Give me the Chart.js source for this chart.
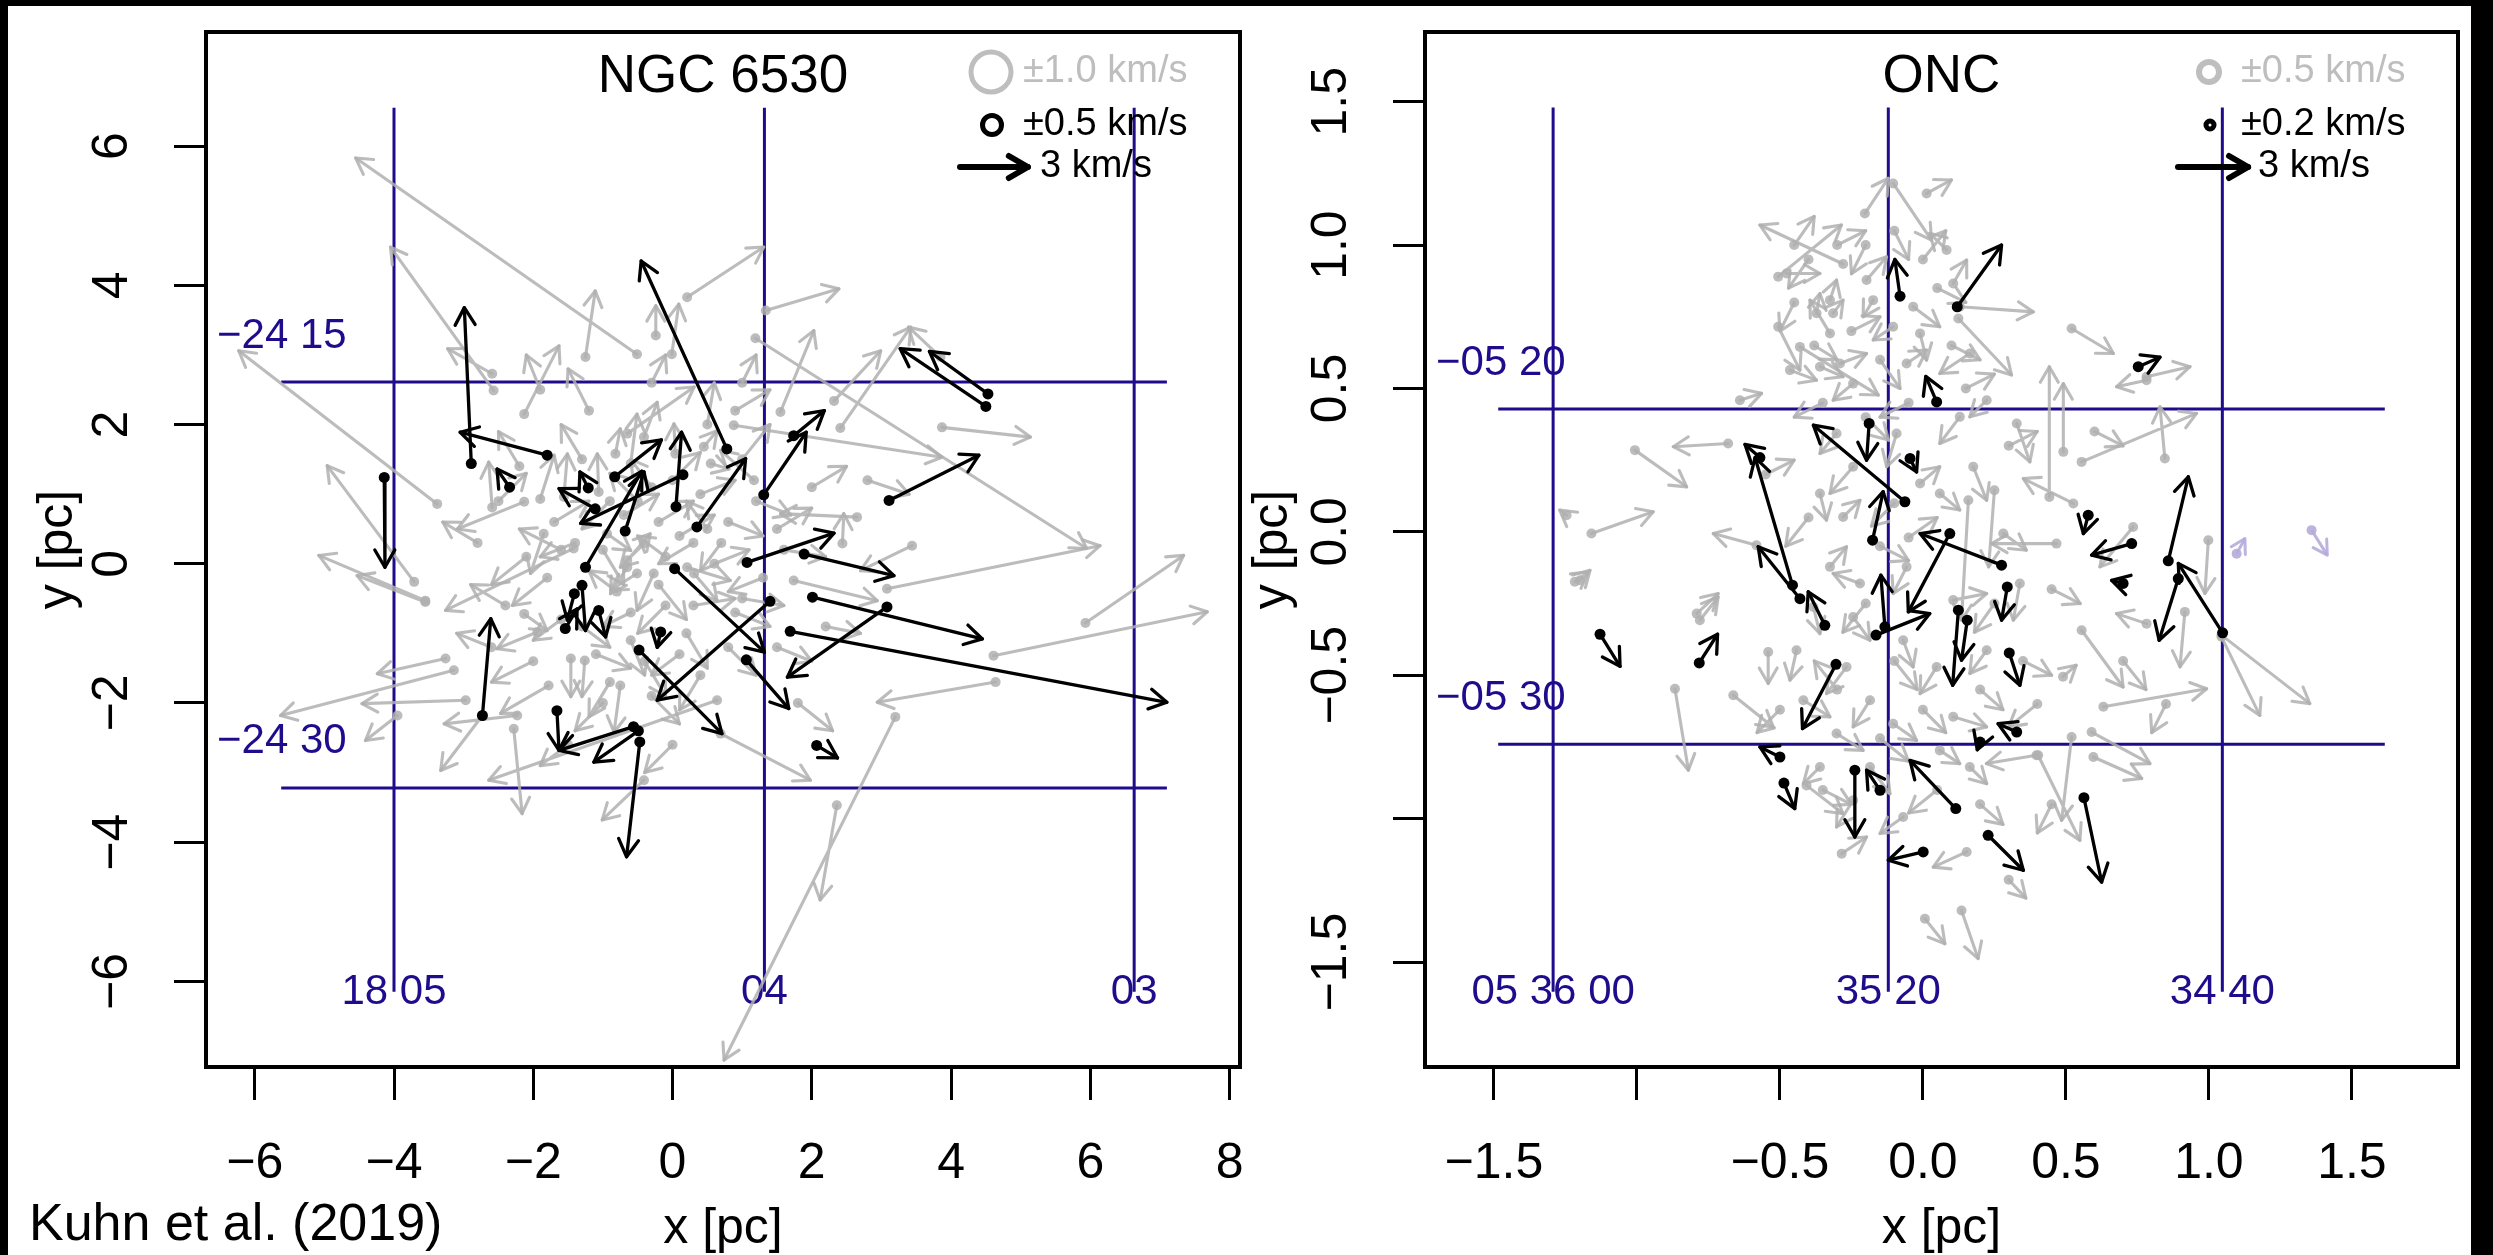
<!DOCTYPE html>
<html>
<head>
<meta charset="utf-8">
<title>NGC 6530 and ONC stellar motions</title>
<script src="https://cdn.jsdelivr.net/npm/chart.js@4.4.1/dist/chart.umd.min.js"></script>
<style>
  html, body { margin: 0; padding: 0; background: #000; width: 2493px; height: 1255px; overflow: hidden; }
  #sheet { position: absolute; left: 8px; top: 6px; width: 2463px; height: 1249px; background: #fff; }
  canvas { position: absolute; top: 0; }
  #ngc { left: 0; }
  #onc { left: 1240px; }
  #credit { position: absolute; left: 21px; top: 1190px; font: 52px/52px "Liberation Sans", Arial, sans-serif; color: #000; white-space: nowrap; }
</style>
</head>
<body>
<div id="sheet">
  <canvas id="ngc" width="1240" height="1249"></canvas>
  <canvas id="onc" width="1223" height="1249"></canvas>
  <div id="credit">Kuhn et al. (2019)</div>
</div>
<script>
const FONT = '"Liberation Sans", Arial, Helvetica, sans-serif';
const BLUE = '#1f0c8c';
const GREY = 'rgba(176,176,176,0.85)';
const FAINT = 'rgba(182,172,218,0.9)';
Chart.defaults.font.family = FONT;
Chart.defaults.color = '#000';

// ---------- NGC 6530 (left panel) ----------
const ngcXTicks = [-6, -4, -2, 0, 2, 4, 6, 8];
const ngcXLabels = ['−6', '−4', '−2', '0', '2', '4', '6', '8'];
const ngcYTicks = [-6, -4, -2, 0, 2, 4, 6];
const ngcYLabels = ['−6', '−4', '−2', '0', '2', '4', '6'];
const ngcRaX = [-4.00, 1.32, 6.63];
const ngcRaLabels = ['18 05', '04', '03'];
const ngcDecY = [2.61, -3.22];
const ngcDecLabels = ['−24 15', '−24 30'];
const ngcLegendText = ['±1.0 km/s', '±0.5 km/s', '3 km/s'];
const ngcPcPerKms = 0.325;

// [x start, y start, x tip, y tip] in pc
const ngcBlackArrows = [
  [0.78, 1.65, -0.45, 4.35], [-2.89, 1.44, -2.99, 3.68], [-1.80, 1.56, -3.05, 1.89],
  [-2.34, 1.10, -2.52, 1.36], [-4.14, 1.24, -4.13, -0.05], [-0.83, 1.25, -0.16, 1.78],
  [0.05, 0.82, 0.13, 1.89], [0.15, 1.28, -1.32, 0.58], [-1.25, -0.05, -0.44, 1.33],
  [-0.68, 0.47, -0.41, 1.32], [-1.11, 0.79, -1.63, 1.08], [-1.21, 1.09, -1.33, 1.32],
  [0.35, 0.53, 1.05, 1.51], [0.03, -0.07, 1.32, -1.27], [-0.48, -1.24, 0.71, -2.44],
  [4.53, 2.44, 3.69, 3.05], [4.50, 2.26, 3.27, 3.09], [1.74, 1.84, 2.18, 2.20],
  [1.31, 0.99, 1.92, 1.89], [3.11, 0.91, 4.40, 1.56], [1.07, 0.02, 2.32, 0.44],
  [1.89, 0.14, 3.18, -0.17], [2.01, -0.48, 4.45, -1.08], [3.08, -0.62, 1.65, -1.63],
  [1.40, -0.54, -0.22, -1.96], [1.69, -0.97, 7.10, -1.99], [1.06, -1.38, 1.67, -2.08],
  [2.07, -2.61, 2.37, -2.79], [-2.73, -2.18, -2.61, -0.79], [-1.66, -2.11, -1.63, -2.68],
  [-0.56, -2.34, -1.63, -2.68], [-0.49, -2.40, -1.13, -2.85], [-0.47, -2.56, -0.66, -4.21],
  [-1.30, -0.31, -1.25, -0.96], [-1.41, -0.43, -1.51, -0.81], [-1.54, -0.93, -1.37, -0.65],
  [-1.06, -0.67, -0.96, -1.05], [-0.17, -0.98, -0.22, -1.20]
];

const ngcGreyArrows = [
  [-0.51, 3.01, -4.55, 5.83], [-2.57, 2.49, -4.05, 4.55], [-2.59, 2.73, -3.23, 3.09],
  [-3.38, 0.86, -6.23, 3.06], [-3.71, -0.26, -4.96, 1.41], [-3.55, -0.53, -5.08, 0.12],
  [-2.13, 0.89, -3.09, 0.50], [-1.25, 2.97, -1.11, 3.92], [-0.24, 3.28, -0.24, 3.71],
  [-0.01, 3.01, 0.09, 3.73], [0.21, 3.83, 1.31, 4.55], [-2.13, 2.15, -1.63, 3.13],
  [1.34, 3.64, 2.39, 3.95], [1.19, 3.24, 5.95, 0.22], [0.88, 1.99, 3.87, 1.53],
  [1.55, 2.18, 2.03, 3.35], [2.32, 2.34, 2.99, 3.06], [2.41, 1.95, 3.42, 3.40],
  [3.85, 2.97, 3.39, 3.40], [3.87, 1.96, 5.14, 1.82], [3.44, 0.26, 2.70, -0.10],
  [3.08, -0.36, 6.14, 0.26], [5.93, -0.85, 7.34, 0.12], [4.61, -1.32, 7.68, -0.69],
  [4.64, -1.70, 2.94, -1.99], [3.20, -2.20, 0.74, -7.13], [2.36, -3.47, 2.12, -4.83],
  [0.69, -2.44, 1.98, -3.11], [-3.55, -0.55, -4.53, -0.17], [-3.26, -1.36, -4.24, -1.58],
  [-3.14, -1.53, -5.63, -2.18], [-2.97, -1.96, -4.46, -2.01], [-3.95, -2.18, -4.41, -2.54],
  [-2.73, -2.18, -3.33, -2.97], [-2.23, -2.18, -3.28, -2.30], [-2.28, -2.37, -2.16, -3.59],
  [-0.75, -1.75, -0.84, -2.42], [-0.41, -3.11, -1.01, -3.68], [-1.78, -1.75, -2.47, -2.15],
  [-1.94, -0.98, -2.52, -1.22], [0.64, -1.96, -2.64, -3.11], [-1.26, -1.39, -1.30, -1.91],
  [-2.59, 0.81, -2.64, 1.46], [-0.65, 1.87, 0.31, 2.54], [-1.42, 0.22, -3.26, -0.67],
  [-1.90, 0.93, -1.70, 1.56], [-1.56, 0.96, -1.51, 1.58], [-1.06, 1.03, -1.08, 1.58],
  [-0.82, 1.58, -0.75, 1.94], [-0.60, 1.44, -0.51, 2.15], [-0.41, 1.82, -0.22, 2.32],
  [0.04, 1.58, 0.02, 2.01], [0.45, 1.68, 0.64, 1.91], [0.55, 1.44, 0.81, 1.36],
  [-1.85, 0.43, -2.04, -0.14], [-0.94, 0.43, -0.60, 0.19], [-0.41, 0.29, -0.75, -0.05],
  [-0.65, 0.05, -0.32, 0.43], [-0.51, -0.14, -0.89, -0.38], [0.21, -0.05, 0.83, -0.24],
  [1.17, 1.20, 0.69, 1.63], [2.65, 0.67, 1.55, 0.72], [2.44, 0.29, 2.46, 0.72],
  [1.74, -0.24, 2.94, -0.53], [-0.65, -0.05, -0.89, -0.43], [-0.27, -0.14, -0.51, -0.67],
  [0.31, -0.14, 0.64, -0.53], [-2.13, -0.72, -1.80, -0.96], [-1.46, -1.36, -1.46, -1.91],
  [-0.20, 0.60, 0.30, 0.90], [0.30, 0.30, -0.20, 0.00], [-0.90, 0.90, -1.30, 0.50],
  [0.80, 0.60, 1.30, 0.40], [0.60, 0.00, 1.10, 0.20], [-0.10, -0.60, -0.50, -1.00],
  [0.90, -0.70, 1.40, -0.90], [-1.30, -0.90, -0.90, -1.20], [0.20, -1.00, 0.50, -1.50],
  [-0.60, -1.10, -0.40, -1.60], [1.30, -0.20, 0.80, -0.40], [-1.60, 0.20, -2.20, 0.50],
  [-2.40, -0.60, -2.90, -0.30], [-2.00, -1.40, -2.60, -1.70], [0.50, 2.00, 0.60, 2.60],
  [-1.20, 2.20, -1.50, 2.80], [1.50, 0.50, 2.00, 0.80], [2.20, -0.90, 2.70, -1.00],
  [-0.30, -1.90, 0.10, -2.30], [-1.00, -2.00, -1.40, -2.40], [0.00, -2.60, -0.40, -3.00],
  [-2.20, 1.40, -2.50, 1.90], [-0.30, 2.60, -0.10, 3.00], [1.00, 2.60, 1.20, 3.00],
  [-1.70, 0.60, -1.20, 0.90], [-1.40, 0.30, -1.90, 0.10], [-1.00, 0.20, -0.70, -0.30],
  [-0.70, 0.70, -0.20, 1.00], [-0.30, 1.10, -0.60, 1.50], [0.10, 0.40, 0.60, 0.70],
  [0.40, 1.00, 0.90, 1.20], [0.70, 0.30, 0.40, -0.10], [1.00, -0.50, 1.60, -0.60],
  [1.20, 0.90, 1.70, 0.70], [0.80, -1.20, 1.20, -1.60], [0.30, -0.60, 0.90, -0.50],
  [-0.20, -0.30, 0.20, -0.80], [-0.80, -0.40, -1.20, -0.10], [-1.10, -1.30, -0.60, -1.50],
  [-1.80, -0.20, -2.30, -0.60], [-2.10, 0.10, -2.60, -0.30], [-1.60, -0.80, -2.00, -1.10],
  [-0.90, -1.70, -1.20, -2.20], [-0.40, -1.40, -0.10, -1.90], [0.40, -1.60, 0.10, -2.10],
  [1.50, -1.20, 2.00, -1.40], [1.60, 0.20, 2.20, 0.10], [2.00, 1.10, 2.50, 1.40],
  [-0.50, 0.90, -0.90, 1.30], [0.00, 1.20, 0.40, 1.60], [-1.30, 1.50, -1.60, 2.00],
  [-0.10, 0.10, -0.50, 0.40], [0.50, 0.50, 0.20, 0.90], [-0.60, -0.70, -1.00, -0.90],
  [0.10, -1.30, -0.30, -1.60], [1.00, 1.50, 1.40, 2.00], [-2.50, 0.90, -2.10, 1.30],
  [-2.80, 0.30, -3.30, 0.60], [2.80, 1.20, 3.40, 1.00], [0.90, 2.20, 1.40, 2.50],
  [-1.90, 2.50, -2.10, 3.00], [-2.60, -1.20, -3.10, -1.00], [1.80, -2.00, 2.30, -2.40],
  [-1.50, -2.60, -1.90, -2.90]
];

// ---------- ONC (right panel) ----------
const oncXTicks = [-1.5, -1.0, -0.5, 0.0, 0.5, 1.0, 1.5];
const oncXLabels = ['−1.5', '', '−0.5', '0.0', '0.5', '1.0', '1.5'];
const oncYTicks = [-1.5, -1.0, -0.5, 0.0, 0.5, 1.0, 1.5];
const oncYLabels = ['−1.5', '', '−0.5', '0.0', '0.5', '1.0', '1.5'];
const oncRaX = [-1.293, -0.121, 1.047];
const oncRaLabels = ['05 36 00', '35 20', '34 40'];
const oncDecY = [0.428, -0.741];
const oncDecLabels = ['−05 20', '−05 30'];
const oncLegendText = ['±0.5 km/s', '±0.2 km/s', '3 km/s'];
const oncPcPerKms = 0.0817;

const oncBlackArrows = [
  [-0.080, 0.822, -0.098, 0.950], [-0.188, 0.378, -0.197, 0.250], [-0.063, 0.105, -0.383, 0.372],
  [-0.456, -0.186, -0.587, 0.259], [-0.430, -0.233, -0.576, -0.052], [-0.570, 0.259, -0.622, 0.305],
  [-0.343, -0.326, -0.401, -0.209], [-0.176, -0.029, -0.139, 0.140], [-0.045, 0.256, -0.022, 0.209],
  [-0.133, -0.331, -0.147, -0.151], [-0.164, -0.360, 0.024, -0.285], [0.094, -0.006, -0.051, -0.279],
  [0.275, -0.116, -0.010, -0.006], [0.048, 0.453, 0.010, 0.542], [0.120, 0.785, 0.275, 1.000],
  [0.753, 0.576, 0.829, 0.609], [0.578, 0.058, 0.561, -0.006], [0.730, -0.041, 0.590, -0.081],
  [0.858, -0.101, 0.928, 0.192], [0.700, -0.180, 0.660, -0.169], [0.893, -0.163, 0.826, -0.378],
  [1.048, -0.352, 0.893, -0.110], [0.295, -0.192, 0.275, -0.308], [0.124, -0.273, 0.104, -0.535],
  [0.155, -0.308, 0.135, -0.448], [0.302, -0.422, 0.339, -0.535], [0.328, -0.698, 0.263, -0.669],
  [0.200, -0.733, 0.190, -0.760], [0.115, -0.965, -0.045, -0.797], [0.228, -1.058, 0.351, -1.180],
  [0.001, -1.116, -0.121, -1.145], [0.563, -0.927, 0.625, -1.221], [-1.129, -0.357, -1.059, -0.469],
  [-0.782, -0.457, -0.718, -0.357], [-0.304, -0.462, -0.421, -0.686], [-0.500, -0.785, -0.570, -0.750],
  [-0.486, -0.876, -0.448, -0.965], [-0.238, -0.831, -0.238, -1.064], [-0.150, -0.901, -0.197, -0.831]
];

const oncGreyArrows = [
  [-0.279, 0.934, -0.570, 1.070], [-0.506, 0.890, -0.285, 1.070], [-0.203, 1.110, -0.121, 1.233],
  [-0.506, 0.715, -0.430, 0.564], [-0.430, 0.645, -0.156, 0.477], [-0.640, 0.459, -0.564, 0.483],
  [-0.681, 0.308, -0.873, 0.297], [-1.007, 0.285, -0.826, 0.157], [-1.159, -0.006, -0.943, 0.070],
  [-1.246, 0.058, -1.270, 0.076], [-1.217, -0.174, -1.170, -0.140], [-0.780, -0.308, -0.716, -0.227],
  [-0.582, -0.047, -0.733, -0.006], [-0.104, 1.215, 0.030, 1.017], [0.013, 1.180, 0.100, 1.227],
  [0.129, 0.785, 0.386, 0.767], [0.124, 0.744, 0.310, 0.547], [0.520, 0.709, 0.666, 0.622],
  [0.782, 0.541, 0.934, 0.576], [0.782, 0.529, 0.677, 0.506], [0.491, 0.279, 0.491, 0.517],
  [0.442, 0.122, 0.442, 0.576], [0.555, 0.244, 0.957, 0.413], [0.846, 0.256, 0.829, 0.436],
  [0.526, 0.099, 0.351, 0.186], [0.328, 0.378, 0.374, 0.244], [0.467, -0.041, 0.240, -0.041],
  [0.159, 0.110, 0.135, -0.308], [0.250, 0.145, 0.230, -0.122], [0.998, -0.029, 0.986, -0.215],
  [0.735, 0.017, 0.619, -0.122], [0.555, -0.343, 0.700, -0.541], [0.490, -0.505, 0.536, -0.465],
  [0.631, -0.610, 0.992, -0.547], [0.916, -0.279, 0.899, -0.471], [0.782, -0.320, 0.677, -0.285],
  [1.044, -0.360, 1.353, -0.599], [1.044, -0.366, 1.178, -0.640], [0.520, -0.715, 0.485, -1.006],
  [0.596, -0.785, 0.765, -0.860], [0.590, -0.698, 0.794, -0.808], [0.403, -0.779, 0.549, -1.076],
  [0.397, -0.779, 0.222, -0.808], [0.153, -1.116, 0.036, -1.169], [0.300, -1.213, 0.360, -1.277],
  [0.007, -1.349, 0.077, -1.436], [0.135, -1.320, 0.193, -1.488], [-1.199, -0.169, -1.164, -0.134],
  [-0.791, -0.285, -0.716, -0.215], [-0.867, -0.547, -0.820, -0.831], [-0.663, -0.570, -0.523, -0.681],
  [-0.541, -0.419, -0.541, -0.529], [-0.407, -0.884, -0.279, -0.983], [-0.284, -1.122, -0.197, -1.064],
  [-0.325, 0.808, -0.302, 0.878], [-0.372, 0.762, -0.360, 0.831], [-0.314, 0.762, -0.279, 0.808],
  [-0.477, 0.901, -0.360, 0.901], [-0.325, 0.692, -0.395, 0.808], [-0.197, 0.878, -0.127, 0.959],
  [-0.174, 0.808, -0.209, 0.750], [-0.104, 0.715, -0.174, 0.669], [-0.034, 0.785, 0.059, 0.715],
  [-0.360, 0.576, -0.279, 0.541], [-0.290, 0.587, -0.197, 0.622], [-0.244, 0.517, -0.314, 0.459],
  [-0.010, 0.692, 0.013, 0.599], [-0.057, 0.587, 0.013, 0.634], [-0.465, 0.564, -0.372, 0.529],
  [-0.302, 0.343, -0.360, 0.273], [-0.244, 0.227, -0.325, 0.134], [-0.360, 0.134, -0.337, 0.041],
  [-0.279, 0.052, -0.220, 0.110], [-0.092, 0.343, -0.127, 0.227], [-0.010, 0.169, 0.059, 0.227],
  [-0.325, -0.122, -0.267, -0.052], [-0.220, -0.180, -0.314, -0.145], [-0.057, -0.122, -0.104, -0.215],
  [-0.383, -0.262, -0.360, -0.355], [-0.244, -0.297, -0.185, -0.378], [-0.069, -0.378, -0.034, -0.471],
  [-0.267, -0.471, -0.337, -0.564], [-0.442, -0.413, -0.465, -0.517], [-0.418, -0.587, -0.325, -0.645],
  [-0.185, -0.587, -0.244, -0.680], [-0.302, -0.703, -0.209, -0.762], [-0.104, -0.669, -0.022, -0.727],
  [-0.360, -0.820, -0.418, -0.878], [-0.185, -0.820, -0.115, -0.913], [-0.244, -0.936, -0.302, -1.029],
  [-0.069, -0.994, -0.150, -1.052], [0.048, -0.471, -0.010, -0.564], [0.059, -0.762, 0.129, -0.808],
  [0.106, -0.645, 0.223, -0.680], [0.164, -0.820, 0.223, -0.878], [0.106, -0.238, 0.223, -0.215],
  [0.223, -0.413, 0.164, -0.494], [0.281, -0.006, 0.362, -0.064], [0.339, -0.180, 0.316, -0.308],
  [0.176, 0.227, 0.223, 0.110], [0.129, 0.401, 0.059, 0.308], [0.223, 0.459, 0.164, 0.401],
  [0.059, 0.134, 0.129, 0.076], [0.164, 0.622, 0.059, 0.552], [0.106, 0.866, 0.153, 0.948],
  [0.083, 0.983, 0.024, 1.041],
  [-0.45, 1.00, -0.38, 1.10], [-0.40, 0.95, -0.47, 0.85], [-0.30, 1.00, -0.20, 1.05],
  [-0.20, 1.00, -0.25, 0.90], [-0.10, 1.05, -0.05, 0.95], [0.00, 0.95, 0.08, 1.05],
  [0.05, 0.85, 0.15, 0.80], [-0.25, 0.70, -0.15, 0.75], [-0.45, 0.80, -0.50, 0.70],
  [-0.38, 0.65, -0.30, 0.60], [-0.15, 0.60, -0.08, 0.50], [0.10, 0.65, 0.20, 0.60],
  [-0.05, 0.45, -0.15, 0.40], [0.15, 0.50, 0.25, 0.55], [-0.35, 0.45, -0.45, 0.40],
  [-0.20, 0.40, -0.12, 0.32], [-0.10, 0.10, -0.18, 0.02], [-0.15, -0.05, -0.05, -0.10],
  [-0.05, -0.02, 0.05, 0.05], [-0.20, -0.25, -0.28, -0.35], [-0.10, -0.45, -0.02, -0.55],
  [-0.30, -0.55, -0.38, -0.45], [0.00, -0.62, 0.08, -0.70], [-0.15, -0.72, -0.05, -0.80],
  [0.20, -0.55, 0.28, -0.62], [0.25, -0.25, 0.18, -0.35], [0.35, -0.45, 0.45, -0.50],
  [0.40, -0.60, 0.30, -0.68], [-0.35, -0.90, -0.25, -0.95], [0.05, -0.90, -0.05, -0.98],
  [0.20, -0.95, 0.28, -1.02], [-0.50, -0.62, -0.58, -0.70], [-0.55, 0.20, -0.45, 0.25],
  [-0.40, 0.05, -0.48, -0.05], [0.30, 0.30, 0.40, 0.35], [0.45, -0.20, 0.55, -0.25],
  [0.60, 0.35, 0.70, 0.30], [0.70, -0.45, 0.78, -0.55], [0.85, -0.60, 0.80, -0.70],
  [0.45, -0.95, 0.40, -1.05]
];

const oncFaintArrows = [[1.097, -0.076, 1.126, -0.023], [1.359, 0.006, 1.414, -0.081]];

// ---------- helpers ----------
function shafts(rows) {
  const out = [];
  rows.forEach(r => out.push({x: r[0], y: r[1]}, {x: r[2], y: r[3]}, {x: null, y: null}));
  return out;
}
function starts(rows) {
  return rows.map(r => ({x: r[0], y: r[1]}));
}
function gridLines(p) {
  const out = [];
  p.raX.forEach(v => out.push({x: v, y: p.raSpan[0]}, {x: v, y: p.raSpan[1]}, {x: null, y: null}));
  p.decY.forEach(v => out.push({x: p.decSpan[0], y: v}, {x: p.decSpan[1], y: v}, {x: null, y: null}));
  return out;
}
function head(ctx, x0, y0, x1, y1, len) {
  const ang = Math.atan2(y1 - y0, x1 - x0), t = Math.PI / 6;
  ctx.beginPath();
  ctx.moveTo(x1 - len * Math.cos(ang - t), y1 - len * Math.sin(ang - t));
  ctx.lineTo(x1, y1);
  ctx.lineTo(x1 - len * Math.cos(ang + t), y1 - len * Math.sin(ang + t));
  ctx.stroke();
}

const arrowHeads = {
  id: 'arrowHeads',
  afterDatasetDraw(chart, args) {
    const ds = chart.data.datasets[args.index];
    if (!ds.headLength) return;
    const pts = args.meta.data, a = chart.chartArea, ctx = chart.ctx;
    ctx.save();
    ctx.beginPath();
    ctx.rect(a.left, a.top, a.right - a.left, a.bottom - a.top);
    ctx.clip();
    ctx.strokeStyle = ds.borderColor;
    ctx.lineWidth = ds.borderWidth;
    ctx.lineCap = 'round';
    ctx.lineJoin = 'round';
    for (let i = 0; i + 1 < pts.length; i += 3) {
      head(ctx, pts[i].x, pts[i].y, pts[i + 1].x, pts[i + 1].y, ds.headLength);
    }
    ctx.restore();
  }
};

function decorations(p) {
  return {
    id: 'decor',
    beforeDatasetsDraw(chart) {
      const {ctx, chartArea: a, scales: {x, y}} = chart;
      ctx.save();
      ctx.fillStyle = BLUE;
      ctx.font = '42px ' + FONT;
      ctx.textBaseline = 'middle';
      ctx.textAlign = 'center';
      p.raX.forEach((v, i) => ctx.fillText(p.raLabels[i], x.getPixelForValue(v), y.getPixelForValue(p.raSpan[0]) + 1));
      ctx.textAlign = 'left';
      p.decY.forEach((v, i) => ctx.fillText(p.decLabels[i], a.left + 11, y.getPixelForValue(v) - 46));
      ctx.restore();
    },
    afterDraw(chart) {
      const {ctx, chartArea: a, scales: {x}} = chart;
      ctx.save();
      ctx.strokeStyle = '#000';
      ctx.lineWidth = 4;
      ctx.strokeRect(a.left, a.top, a.right - a.left, a.bottom - a.top);

      ctx.fillStyle = '#000';
      ctx.font = '53px ' + FONT;
      ctx.textAlign = 'center';
      ctx.textBaseline = 'middle';
      ctx.fillText(p.title, (a.left + a.right) / 2, a.top + 45);

      // legend, top right inside the box
      const cx = a.right - 249;
      ctx.lineWidth = p.ring1[1];
      ctx.strokeStyle = '#bebebe';
      ctx.beginPath(); ctx.arc(cx, a.top + 40, p.ring1[0], 0, 2 * Math.PI); ctx.stroke();
      ctx.lineWidth = p.ring2[1];
      ctx.strokeStyle = '#000';
      ctx.beginPath(); ctx.arc(cx + 1, a.top + 93, p.ring2[0], 0, 2 * Math.PI); ctx.stroke();

      const ax0 = a.right - 280, ay = a.top + 135;
      const len = x.getPixelForValue(3 * p.pcPerKms) - x.getPixelForValue(0);
      ctx.lineWidth = 6;
      ctx.lineCap = 'round';
      ctx.lineJoin = 'round';
      ctx.beginPath(); ctx.moveTo(ax0, ay); ctx.lineTo(ax0 + len, ay); ctx.stroke();
      head(ctx, ax0, ay, ax0 + len, ay, 22);

      ctx.font = '38px ' + FONT;
      ctx.textAlign = 'left';
      ctx.fillStyle = '#bebebe';
      ctx.fillText(p.legendText[0], a.right - 217, a.top + 40);
      ctx.fillStyle = '#000';
      ctx.fillText(p.legendText[1], a.right - 217, a.top + 93);
      ctx.fillText(p.legendText[2], a.right - 200, ay);
      ctx.restore();
    }
  };
}

function makePanel(id, p) {
  return new Chart(document.getElementById(id), {
    type: 'scatter',
    data: {
      datasets: [
        {data: starts(p.black), pointRadius: 5.5, pointBackgroundColor: '#000', pointBorderWidth: 0, order: 0},
        {data: shafts(p.black), showLine: true, borderColor: '#000', borderWidth: 3.3, pointRadius: 0,
         borderCapStyle: 'round', headLength: 20, order: 1},
        {data: starts(p.grey), pointRadius: 5, pointBackgroundColor: GREY, pointBorderWidth: 0, order: 2},
        {data: shafts(p.grey), showLine: true, borderColor: GREY, borderWidth: 3.1, pointRadius: 0,
         borderCapStyle: 'round', headLength: 18, order: 3},
        {data: starts(p.faint), pointRadius: 5, pointBackgroundColor: FAINT, pointBorderWidth: 0, order: 2},
        {data: shafts(p.faint), showLine: true, borderColor: FAINT, borderWidth: 3, pointRadius: 0,
         headLength: 16, order: 3},
        {data: gridLines(p), showLine: true, borderColor: BLUE, borderWidth: 3, pointRadius: 0, order: 5}
      ]
    },
    options: {
      responsive: false,
      animation: false,
      events: [],
      devicePixelRatio: 1,
      layout: {autoPadding: false, padding: {left: 0, top: 26, right: p.padRight, bottom: 0}},
      plugins: {legend: {display: false}, tooltip: {enabled: false}},
      scales: {
        x: {
          type: 'linear', position: 'bottom', min: p.xRange[0], max: p.xRange[1],
          afterBuildTicks: s => { s.ticks = p.xTicks.map(v => ({value: v})); },
          afterFit: s => { s.height = 188; s.paddingLeft = 0; s.paddingRight = 0; },
          border: {display: false},
          grid: {drawOnChartArea: false, drawTicks: true, tickLength: 33, tickWidth: 3, tickColor: '#000'},
          ticks: {autoSkip: false, maxRotation: 0, minRotation: 0, padding: 34, color: '#000',
                  font: {size: 50}, callback: (v, i) => p.xLabels[i]},
          title: {display: true, text: 'x [pc]', color: '#000', font: {size: 50, lineHeight: 1},
                  padding: {top: 0, bottom: 1}}
        },
        y: {
          type: 'linear', position: 'left', min: p.yRange[0], max: p.yRange[1],
          afterBuildTicks: s => { s.ticks = p.yTicks.map(v => ({value: v})); },
          afterFit: s => { s.width = p.axisWidth; s.paddingTop = 0; s.paddingBottom = 0; },
          border: {display: false},
          grid: {drawOnChartArea: false, drawTicks: true, tickLength: 32, tickWidth: 3, tickColor: '#000'},
          ticks: {autoSkip: false, minRotation: 90, maxRotation: 90, crossAlign: 'center',
                  padding: p.yTickPad, color: '#000', font: {size: 50}, callback: (v, i) => p.yLabels[i]},
          title: {display: true, text: 'y [pc]', color: '#000', font: {size: 50, lineHeight: 1},
                  padding: {top: p.yTitlePad, bottom: 0}}
        }
      }
    },
    plugins: [arrowHeads, decorations(p)]
  });
}

makePanel('ngc', {
  title: 'NGC 6530',
  xRange: [-6.70, 8.15], yRange: [-7.23, 7.64],
  xTicks: ngcXTicks, xLabels: ngcXLabels, yTicks: ngcYTicks, yLabels: ngcYLabels,
  raX: ngcRaX, raLabels: ngcRaLabels, raSpan: [-6.15, 6.55],
  decY: ngcDecY, decLabels: ngcDecLabels, decSpan: [-5.62, 7.10],
  black: ngcBlackArrows, grey: ngcGreyArrows, faint: [],
  legendText: ngcLegendText, pcPerKms: ngcPcPerKms,
  ring1: [20, 5], ring2: [9.5, 5],
  axisWidth: 198, padRight: 8, yTickPad: 32, yTitlePad: 25
});

makePanel('onc', {
  title: 'ONC',
  xRange: [-1.741, 1.871], yRange: [-1.866, 1.743],
  xTicks: oncXTicks, xLabels: oncXLabels, yTicks: oncYTicks, yLabels: oncYLabels,
  raX: oncRaX, raLabels: oncRaLabels, raSpan: [-1.604, 1.48],
  decY: oncDecY, decLabels: oncDecLabels, decSpan: [-1.485, 1.615],
  black: oncBlackArrows, grey: oncGreyArrows, faint: oncFaintArrows,
  legendText: oncLegendText, pcPerKms: oncPcPerKms,
  ring1: [10, 6], ring2: [4, 5],
  axisWidth: 177, padRight: 13, yTickPad: 11, yTitlePad: 0
});
</script>
</body>
</html>
